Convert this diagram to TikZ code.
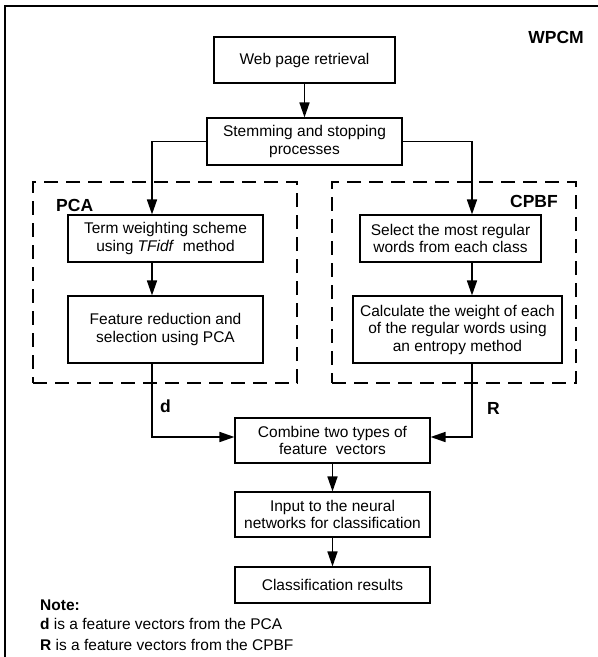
\documentclass[tikz,border=0pt]{standalone}
\usepackage{fontspec}
\setmainfont{Liberation Sans}
\usepackage{tikz}
\usetikzlibrary{arrows.meta,positioning,calc}
\definecolor{ink}{HTML}{000000}
\tikzset{
  procbox/.style={
    rectangle, draw=ink, line width=1.1pt, fill=white,
    minimum width=#1, minimum height=47pt,
    font=\fontsize{15.5}{17.5}\selectfont, align=center,
    inner sep=2pt
  },
  procbox/.default=195pt,
  groupbox/.style={
    rectangle, draw=ink, line width=2pt, dash pattern=on 14pt off 8pt,
    inner sep=0pt
  },
  flowarrow/.style={
    -{Triangle[length=15pt,width=10pt]}, line width=1.6pt, color=ink
  },
  grouplabel/.style={
    font=\fontsize{17.5}{20}\selectfont\bfseries, inner sep=0pt
  },
  notetext/.style={
    font=\fontsize{15.5}{18}\selectfont, anchor=west, inner sep=0pt
  },
}
\begin{document}
\begin{tikzpicture}[x=1pt,y=-1pt]
  \useasboundingbox (0,0) rectangle (598,657);
  % outer frame, only its top and left edges fall on the page
  \draw[line width=1.2pt] (5,657) -- (5,6) -- (598,6);

  % dashed groups
  \node[groupbox, minimum width=264pt, minimum height=201pt] (pcagrp) at (165,282.5) {};
  \node[groupbox, minimum width=244pt, minimum height=201pt] (cpbfgrp) at (454,282.5) {};

  % main column
  \node[procbox=181pt, minimum height=46pt] (web) at (304.5,60) {Web page retrieval};
  \node[procbox] (stem) at (304.5,141.5) {Stemming and stopping\\processes};

  % PCA branch
  \node[procbox] (term) at (165.5,238.5) {Term weighting scheme\\using \textit{TFidf}\ \ method};
  \node[procbox, minimum height=67pt] (feat) at (165.5,329.5) {Feature reduction and\\selection using PCA};

  % CPBF branch
  \node[procbox=181pt] (sel) at (450.5,238.5) {Select the most regular\\words from each class};
  \node[procbox=209pt, minimum height=67pt] (calc) at (457.5,329.5) {Calculate the weight of each\\of the regular words using\\an entropy method};

  % combined part
  \node[procbox, minimum height=45pt] (comb) at (332.5,440.5) {Combine two types of\\feature\ \ vectors};
  \node[procbox, minimum height=45pt] (input) at (332.5,514.5) {Input to the neural\\networks for classification};
  \node[procbox, minimum height=36pt] (result) at (332.5,585) {Classification results};

  % labels
  \node[grouplabel, anchor=east] (wpcm) at (584,37) {WPCM};
  \node[grouplabel, anchor=west] (pcalbl) at (56,205) {PCA};
  \node[grouplabel, anchor=east] (cpbflbl) at (558,201) {CPBF};
  \node[grouplabel, anchor=west] (dlbl) at (160,406) {d};
  \node[grouplabel, anchor=west] (rlbl) at (487,408) {R};

  % arrows
  \coordinate (lcol) at (152,0);
  \coordinate (rcol) at (472,0);
  \draw[flowarrow] (web) -- (stem);
  \draw[flowarrow] (stem.west) -| (lcol |- term.north);
  \draw[flowarrow] (stem.east) -| (rcol |- sel.north);
  \draw[flowarrow] (lcol |- term.south) -- (lcol |- feat.north);
  \draw[flowarrow] (rcol |- sel.south) -- (rcol |- calc.north);
  \draw[flowarrow] (lcol |- feat.south) |- ([yshift=3.5pt]comb.west);
  \draw[flowarrow] (rcol |- calc.south) |- ([yshift=3.5pt]comb.east);
  \draw[flowarrow] (comb) -- (input);
  \draw[flowarrow] (input) -- (result);

  % notes
  \node[notetext, font=\fontsize{15.5}{18}\selectfont\bfseries] (note) at (40,605) {Note:};
  \node[notetext] (noted) at (40,624) {\textbf{d} is a feature vectors from the PCA};
  \node[notetext] (noter) at (40,645) {\textbf{R} is a feature vectors from the CPBF};
\end{tikzpicture}
\end{document}
